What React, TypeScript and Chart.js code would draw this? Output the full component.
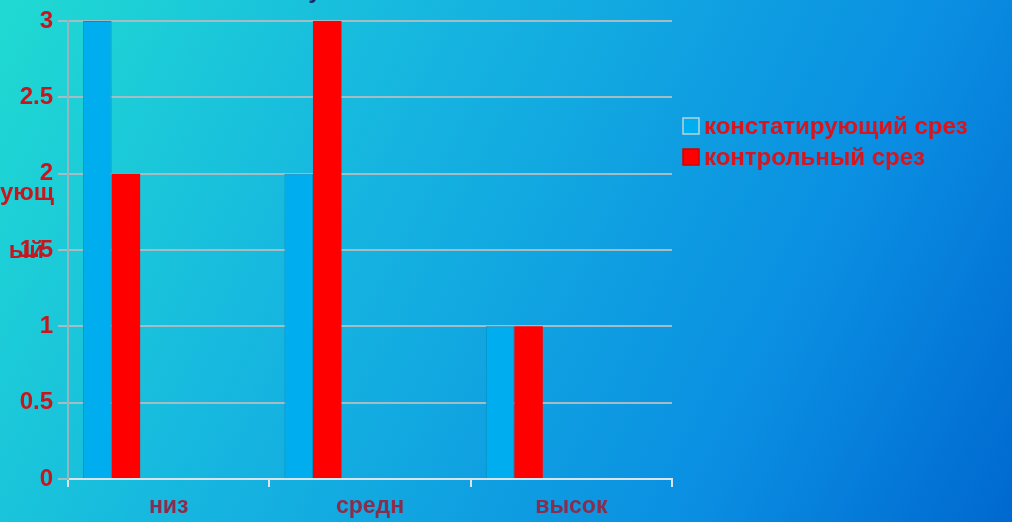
import React, { useEffect, useRef } from "react";
import { Chart, registerables } from "chart.js";

Chart.register(...registerables);

const categories = ["низ", "средн", "высок"];
const seriesNames = ["констатирующий срез", "контрольный срез"];
const statementValues = [3, 2, 1];
const controlValues = [2, 3, 1];
const emptySeriesCount = 4;
const yTicks = { min: 0, max: 3, step: 0.5 };

const FONT = "'Liberation Sans', Arial, sans-serif";
const BLUE = "#00aeef";
const RED = "#ff0000";
const LABEL_RED = "#c8161e";

const bgPlugin = {
  id: "bg",
  beforeDraw(chart: any) {
    const { ctx, width, height } = chart;
    ctx.save();
    const g = ctx.createLinearGradient(0, 0, width, height);
    g.addColorStop(0, "#20dad2");
    g.addColorStop(0.35, "#16b6e0");
    g.addColorStop(0.75, "#0a8ee2");
    g.addColorStop(1, "#0068d0");
    ctx.fillStyle = g;
    ctx.fillRect(0, 0, width, height);
    ctx.restore();
  },
};

const extrasPlugin = {
  id: "extras",
  afterDraw(chart: any) {
    const { ctx } = chart;
    ctx.save();
    // cut-off axis title
    ctx.font = `bold 24px ${FONT}`;
    ctx.fillStyle = LABEL_RED;
    ctx.textBaseline = "middle";
    ctx.textAlign = "right";
    ctx.fillText("ующ", 54, 193);
    ctx.fillText("ый", 44, 251);
    // cut-off title
    ctx.fillStyle = "#1a2a6a";
    ctx.textAlign = "center";
    ctx.textBaseline = "alphabetic";
    ctx.fillText("у", 315, -2);
    // legend
    const items = [
      { label: seriesNames[0], color: BLUE, border: "#b8d4dc" },
      { label: seriesNames[1], color: RED, border: "#d00000" },
    ];
    ctx.textAlign = "left";
    ctx.textBaseline = "middle";
    ctx.font = `bold 24px ${FONT}`;
    items.forEach((it, i) => {
      const y = 126 + i * 31;
      ctx.fillStyle = it.color;
      ctx.fillRect(683, y - 8, 16, 16);
      ctx.strokeStyle = it.border;
      ctx.lineWidth = 1.5;
      ctx.strokeRect(683, y - 8, 16, 16);
      ctx.fillStyle = "#d8141e";
      ctx.fillText(it.label, 704, y + 1);
    });
    ctx.restore();
  },
};

export default function App() {
  const ref = useRef<HTMLCanvasElement>(null);
  useEffect(() => {
    document.body.style.margin = "0";
    const datasets: any[] = [
      {
        label: seriesNames[0],
        data: statementValues,
        backgroundColor: BLUE,
        borderColor: "#0a8cc0",
        borderWidth: 1,
      },
      {
        label: seriesNames[1],
        data: controlValues,
        backgroundColor: RED,
        borderColor: "#e00000",
        borderWidth: 0,
      },
    ];
    for (let i = 0; i < emptySeriesCount; i++) {
      datasets.push({ label: "", data: categories.map(() => null), backgroundColor: "transparent" });
    }
    const chart = new Chart(ref.current!, {
      type: "bar",
      data: { labels: categories, datasets },
      plugins: [bgPlugin, extrasPlugin],
      options: {
        animation: false,
        responsive: false,
        layout: { padding: { top: 21, right: 340, left: 0, bottom: 0 } },
        datasets: { bar: { categoryPercentage: 0.85, barPercentage: 1 } },
        plugins: { legend: { display: false }, tooltip: { enabled: false } },
        scales: {
          x: {
            afterFit(scale: any) {
              scale.height = 43;
            },
            grid: {
              offset: true,
              drawOnChartArea: false,
              drawTicks: true,
              tickLength: 8,
              color: "#d8e4ea",
              lineWidth: 2,
            },
            border: { color: "#d8e4ea", width: 2 },
            ticks: {
              color: "#8a2c4c",
              font: { family: FONT, size: 23, weight: "bold" },
              padding: 6,
            },
          },
          y: {
            min: yTicks.min,
            max: yTicks.max,
            afterFit(scale: any) {
              scale.width = 68;
            },
            grid: {
              color: "#a4bcc4",
              lineWidth: 2,
              tickLength: 10,
            },
            border: { color: "#98b4bc", width: 2 },
            ticks: {
              stepSize: yTicks.step,
              color: LABEL_RED,
              font: { family: FONT, size: 24, weight: "bold" },
              padding: 5,
              callback: (v: any) => String(Number(v)),
            },
          },
        },
      } as any,
    });
    return () => chart.destroy();
  }, []);
  return (
    <div style={{ position: "absolute", left: 0, top: 0, width: 1012, height: 522 }}>
      <canvas ref={ref} width={1012} height={522} />
    </div>
  );
}
